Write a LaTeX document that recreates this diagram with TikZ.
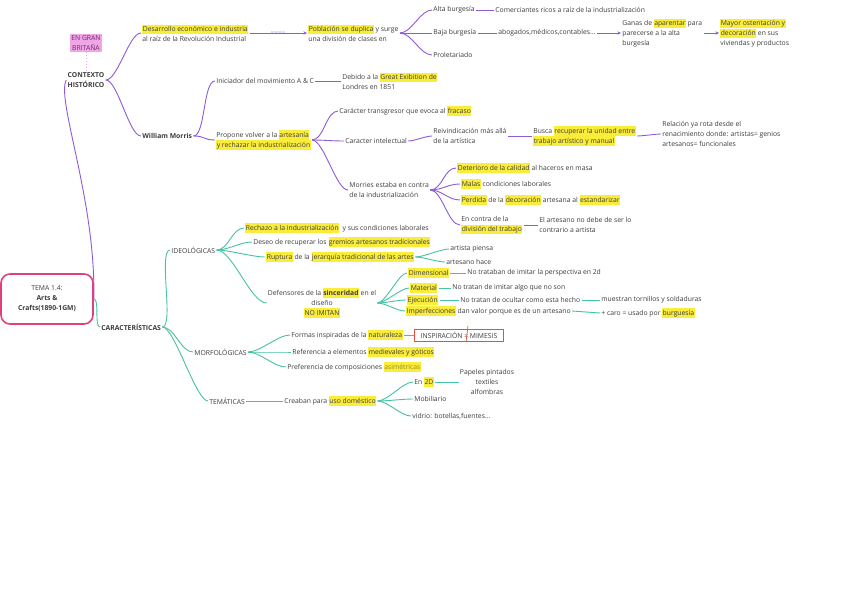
\documentclass[tikz,border=0pt]{standalone}
\usepackage{fontspec}
\setmainfont{Open Sans}
\usetikzlibrary{calc,arrows.meta}
\definecolor{purp}{HTML}{8E5BD8}
\definecolor{tealc}{HTML}{45C3A5}
\definecolor{hly}{HTML}{F9EC3B}
\definecolor{pinkhl}{HTML}{F0A6E6}
\definecolor{rootc}{HTML}{E0407E}
\definecolor{txtc}{HTML}{3C3C3C}
\definecolor{redb}{HTML}{E8503C}
\definecolor{gbtxt}{HTML}{6B2A6B}
\newcommand\ft{\fontsize{6.8}{10}\selectfont}
\newcommand\hlt[1]{{\setlength{\fboxsep}{0.4pt}\colorbox{hly}{\vrule height 6.2pt depth 2.1pt width 0pt #1}}}
\begin{document}
\begin{tikzpicture}[x=1pt,y=-1pt,
  t/.style={anchor=west,inner xsep=1.2pt,inner ysep=1pt,align=left,font=\ft,text=txtc},
  tb/.style={t,font=\ft\bfseries},
  pc/.style={draw=purp,line width=0.9pt},
  tc/.style={draw=tealc,line width=0.9pt},
  arr/.style={-{Stealth[length=3.5pt,width=3.2pt]}},
  cv/.style={to path={.. controls ($(\tikztostart)+(#1,0)$) and ($(\tikztotarget)+(-#1,0)$) .. (\tikztotarget)}},
  cv/.default=12]
\fill[white] (0,0) rectangle (848,599);
\useasboundingbox (0,0) rectangle (848,599);

% ---------- CONTEXTO HISTORICO ----------
\node[fill=pinkhl,inner sep=1.2pt,align=center,font=\ft,text=gbtxt] (gb) at (86,43) {EN GRAN\\BRITAÑA};
\node[tb,anchor=center,align=center] (ctx) at (86,80) {CONTEXTO\\HISTÓRICO};
\node[t] (des) at (141,33) {\hlt{Desarrollo económico e industria}\\al raíz de la Revolución Industrial};
\node[t] (pob) at (307,33) {\hlt{Población se duplica} y surge\\una división de clases en};
\node[t] (alta) at (432,10) {Alta burgesía};
\node[t] (com) at (494,10) {Comerciantes ricos a raíz de la industrialización};
\node[t] (baja) at (432,33) {Baja burgesía};
\node[t] (abo) at (497,33) {abogados,médicos,contables...};
\node[t] (prol) at (432,55) {Proletariado};
\node[t] (gan) at (621,33) {Ganas de \hlt{aparentar} para\\parecerse a la alta\\burgesía};
\node[t] (may) at (719,33) {\hlt{Mayor ostentación y}\\\hlt{decoración} en sus\\viviendas y productos};
\node[tb] (wm) at (141,136) {William Morris};
\node[t] (ini) at (215,81) {Iniciador del movimiento A \& C};
\node[t] (deb) at (341,81) {Debido a la \hlt{Great Exibition de}\\Londres en 1851};
\node[t] (prop) at (215,140) {Propone volver a la \hlt{artesanía}\\\hlt{y rechazar la industrialización}};
\node[t] (car1) at (338,111) {Carácter transgresor que evoca al \hlt{fracaso}};
\node[t] (car2) at (344,141) {Caracter intelectual};
\node[t] (rei) at (432,136) {Reivindicación más allá\\de la artística};
\node[t] (bus) at (532,136) {Busca \hlt{recuperar la unidad entre}\\\hlt{trabajo artístico y manual}};
\node[t] (rel) at (661,134) {Relación ya rota desde el\\renacimiento donde: artistas= genios\\artesanos= funcionales};
\node[t] (mor) at (348,190) {Morries estaba en contra\\de la industrialización};
\node[t] (det) at (456,168) {\hlt{Deterioro de la calidad} al haceros en masa};
\node[t] (mal) at (460,184) {\hlt{Malas} condiciones laborales};
\node[t] (per) at (460,200) {\hlt{Perdida} de la \hlt{decoración} artesana al \hlt{estandarizar}};
\node[t] (enc) at (460,225) {En contra de la\\\hlt{división del trabajo}};
\node[t] (ela) at (538,225) {El artesano no debe de ser lo\\contrario a artista};

% ---------- ROOT ----------
\node[draw=rootc,line width=1.6pt,rounded corners=9pt,minimum width=92pt,minimum height=50pt,align=center,font=\ft,text=txtc] (root) at (47,299) {TEMA 1.4:\\\textbf{Arts \&}\\\textbf{Crafts(1890-1GM)}};

% ---------- CARACTERISTICAS ----------
\node[tb] (car) at (100,327) {CARACTERÍSTICAS};
\node[t] (ideo) at (170,250) {IDEOLÓGICAS};
\node[t] (morf) at (193,352) {MORFOLÓGICAS};
\node[t] (tem) at (208,401) {TEMÁTICAS};
\node[t] (rech) at (244,228) {\hlt{Rechazo a la industrialización}\ \ y sus condiciones laborales};
\node[t] (deseo) at (252,242) {Deseo de recuperar los \hlt{gremios artesanos tradicionales}};
\node[t] (rup) at (265,257) {\hlt{Ruptura} de la \hlt{jerarquía tradicional de las artes}};
\node[t,anchor=center,align=center] (def) at (322,303) {Defensores de la \hlt{\textbf{sinceridad}} en el\\diseño\\\hlt{NO IMITAN}};
\node[t] (artp) at (449,249) {artista piensa};
\node[t] (arth) at (445,262) {artesano hace};
\node[t] (dim) at (407,273) {\hlt{Dimensional}};
\node[t] (ndim) at (466,273) {No trataban de imitar la perspectiva en 2d};
\node[t] (mat) at (409,288) {\hlt{Material}};
\node[t] (nmat) at (451,288) {No tratan de imitar algo que no son};
\node[t] (eje) at (406,300) {\hlt{Ejecución}};
\node[t] (neje) at (459,300) {No tratan de ocultar como esta hecho};
\node[t] (mue) at (600,300) {muestran tornillos y soldaduras};
\node[t] (imp) at (405,311) {\hlt{Imperfecciones} dan valor porque es de un artesano};
\node[t] (caro) at (600,313) {+ caro = usado por \hlt{burguesía}};
\node[t] (for) at (290,335) {Formas inspiradas de la \hlt{naturaleza}};
\node[draw=redb,line width=0.8pt,inner xsep=3pt,inner ysep=2pt,minimum width=89pt,minimum height=12pt,font=\ft,text=txtc] (insp) at (459,335) {INSPIRACIÓN = MIMESIS};
\node[t] (ref) at (291,352) {Referencia a elementos \hlt{medievales y góticos}};
\node[t] (pref) at (286,367) {Preferencia de composiciones \hlt{\color{hly!60!black}asimétricas}};
\node[t] (crea) at (283,401) {Creaban para \hlt{uso doméstico}};
\node[t] (en2d) at (413,382) {En \hlt{2D}};
\node[t] (mob) at (413,399) {Mobiliario};
\node[t] (vid) at (411,416) {vidrio: botellas,fuentes...};
\node[t,anchor=center,align=center] (pap) at (487,382) {Papeles pintados\\textiles\\alfombras};

% ---------- purple connectors ----------
\draw[pinkhl,line width=0.7pt,dash pattern=on 1.5pt off 1.5pt] (gb.south) -- (ctx.north);
\draw[pc] (root.east) .. controls (96,200) and (56,100) .. (ctx.west);
\draw[pc] (ctx.east) to[cv] (des.west);
\draw[pc] (ctx.east) to[cv] (wm.west);
\draw[pc,arr] (des.east) -- node[font=\fontsize{3.8}{4}\selectfont,text=purp!60,inner sep=0pt] {provoca} (pob.west);
\draw[pc] (pob.east) to[cv] (alta.west);
\draw[pc] (pob.east) -- (baja.west);
\draw[pc] (pob.east) to[cv] (prol.west);
\draw[pc] (alta.east) -- (com.west);
\draw[pc] (baja.east) -- (abo.west);
\draw[pc,arr] (abo.east) -- (gan.west);
\draw[pc,arr] (gan.east) -- (may.west);
\draw[pc] (wm.east) to[cv] (ini.west);
\draw[pc] (wm.east) to[cv] (prop.west);
\draw[pc] (ini.east) -- (deb.west);
\draw[pc] (prop.east) to[cv] (car1.west);
\draw[pc] (prop.east) to[cv] (car2.west);
\draw[pc] (prop.east) to[cv] (mor.west);
\draw[pc] (car2.east) to[cv=6] (rei.west);
\draw[pc] (rei.east) -- (bus.west);
\draw[pc] (bus.east) to[cv=5] (rel.west);
\draw[pc] (mor.east) to[cv] (det.west);
\draw[pc] (mor.east) to[cv] (mal.west);
\draw[pc] (mor.east) to[cv] (per.west);
\draw[pc] (mor.east) to[cv] (enc.west);
\draw[pc] (enc.east) -- (ela.west);

% ---------- teal connectors ----------
\draw[tc] (root.east) to[cv=6] (car.west);
\draw[tc] (car.east) to[cv] (ideo.west);
\draw[tc] (car.east) to[cv] (morf.west);
\draw[tc] (car.east) to[cv] (tem.west);
\draw[tc] (ideo.east) to[cv] (rech.west);
\draw[tc] (ideo.east) to[cv] (deseo.west);
\draw[tc] (ideo.east) to[cv] (rup.west);
\draw[tc] (ideo.east) to[cv=16] (def.west);
\draw[tc] (rup.east) to[cv=8] (artp.west);
\draw[tc] (rup.east) to[cv=8] (arth.west);
\draw[tc] (def.east) to[cv=8] (dim.west);
\draw[tc] (def.east) to[cv=8] (mat.west);
\draw[tc] (def.east) to[cv=8] (eje.west);
\draw[tc] (def.east) to[cv=8] (imp.west);
\draw[tc] (dim.east) -- (ndim.west);
\draw[tc] (mat.east) -- (nmat.west);
\draw[tc] (eje.east) -- (neje.west);
\draw[tc] (neje.east) -- (mue.west);
\draw[tc] (imp.east) -- (caro.west);
\draw[tc] (morf.east) to[cv] (for.west);
\draw[tc] (morf.east) to[cv] (ref.west);
\draw[tc] (morf.east) to[cv] (pref.west);
\draw[tc] (for.east) -- (insp.west);
\draw[tc] (tem.east) -- (crea.west);
\draw[tc] (crea.east) to[cv=10] (en2d.west);
\draw[tc] (crea.east) to[cv=10] (mob.west);
\draw[tc] (crea.east) to[cv=10] (vid.west);
\draw[tc] (en2d.east) -- (pap.west);
\draw[redb,line width=0.7pt] ($(insp.center)+(9,-9)$) -- ($(insp.center)+(7,7)$);
\end{tikzpicture}
\end{document}
